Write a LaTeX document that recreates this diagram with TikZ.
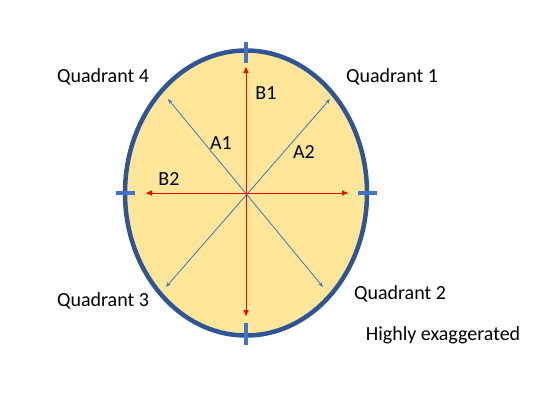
\documentclass[tikz,border=0pt]{standalone}
\usepackage{fontspec}
\setmainfont{Carlito}
\usetikzlibrary{arrows.meta}
\definecolor{ringblue}{RGB}{47,85,151}
\definecolor{tickblue}{RGB}{68,114,196}
\definecolor{eggfill}{RGB}{255,230,153}
\definecolor{axisred}{RGB}{255,0,0}
\begin{document}
\begin{tikzpicture}[x=1pt, y=-1pt,
  lbl/.style={inner sep=0pt, font=\fontsize{20}{24}\selectfont},
  major/.style={{Triangle[length=6pt,width=5pt]}-{Triangle[length=6pt,width=5pt]}, axisred, line width=0.9pt},
  minor/.style={{Stealth[length=5pt,width=4pt]}-{Stealth[length=5pt,width=4pt]}, tickblue, line width=0.8pt},
  tick/.style={tickblue, line width=3.5pt}
]
\useasboundingbox (0,0) rectangle (548,404);
\coordinate (O) at (246,193);
\draw[ringblue, fill=eggfill, line width=4.5pt] (O) ellipse [x radius=121, y radius=142.5];
% tick marks on the rim
\draw[tick] (246,42) -- (246,63);
\draw[tick] (246,323) -- (246,345);
\draw[tick] (116,193) -- (135,193);
\draw[tick] (358,193) -- (377,193);
% axis end points
\coordinate (top) at (246,67);
\coordinate (bot) at (246,316);
\coordinate (lft) at (146,193);
\coordinate (rgt) at (348,193);
\coordinate (ul) at (168,99);
\coordinate (ur) at (330,99);
\coordinate (ll) at (166,287);
\coordinate (lr) at (323,287);
\draw[minor] (ul) -- (lr);
\draw[minor] (ur) -- (ll);
\draw[major] (top) -- (bot);
\draw[major] (lft) -- (rgt);
\node[lbl] (b1) at (266,93) {B1};
\node[lbl] (b2) at (169,179) {B2};
\node[lbl] (a1) at (221,143) {A1};
\node[lbl] (a2) at (304,152) {A2};
\node[lbl] (q4) at (103,77) {Quadrant 4};
\node[lbl] (q1) at (392,77) {Quadrant 1};
\node[lbl] (q3) at (103,301) {Quadrant 3};
\node[lbl] (q2) at (400,294) {Quadrant 2};
\node[lbl] (note) at (443,335) {Highly exaggerated};
\end{tikzpicture}
\end{document}
